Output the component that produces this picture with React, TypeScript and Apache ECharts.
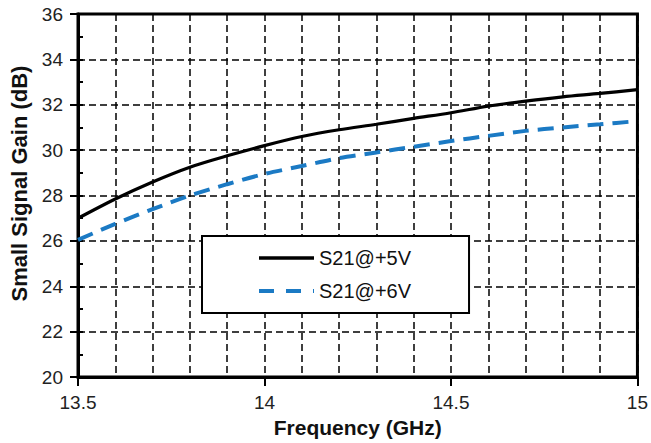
import React, { useEffect, useRef } from "react";
import * as echarts from "echarts";

const freq = [13.5, 13.6, 13.7, 13.8, 13.9, 14.0, 14.1, 14.2, 14.3, 14.4, 14.5, 14.6, 14.7, 14.8, 14.9, 15.0];
const gain5V = [27.0, 27.85, 28.6, 29.25, 29.75, 30.2, 30.6, 30.9, 31.14, 31.4, 31.65, 31.94, 32.16, 32.35, 32.5, 32.67];
const gain6V = [26.05, 26.75, 27.4, 28.0, 28.5, 28.95, 29.3, 29.65, 29.9, 30.15, 30.4, 30.63, 30.85, 31.0, 31.14, 31.28];
const seriesNames = ["S21@+5V", "S21@+6V"];
const xTitle = "Frequency (GHz)";
const yTitle = "Small Signal Gain (dB)";

const FONT = "'Liberation Sans', Arial, sans-serif";
const BLUE = "#1B7AC4";

export default function App() {
  const ref = useRef<HTMLDivElement>(null);
  useEffect(() => {
    if (!ref.current) return;
    const chart = echarts.init(ref.current, undefined, { renderer: "svg" });
    const dashGrid = { show: true, lineStyle: { color: "#000", width: 1.5, type: [7, 4] as any } };
    chart.setOption({
      animation: false,
      backgroundColor: "#fff",
      textStyle: { fontFamily: FONT },
      grid: {
        left: 78, right: 13, top: 14, bottom: 65,
        show: true, borderWidth: 3, borderColor: "#000", backgroundColor: "transparent",
      },
      legend: {
        orient: "vertical",
        left: 202, top: 236,
        padding: [11, 58, 11, 55],
        itemGap: 11,
        itemWidth: 55, itemHeight: 14,
        backgroundColor: "#fff",
        borderColor: "#000", borderWidth: 2,
        itemStyle: { opacity: 0 },
        textStyle: { fontSize: 20, color: "#111", fontFamily: FONT, lineHeight: 22 },
        data: [
          { name: seriesNames[0], lineStyle: { width: 3.5, color: "#000" } },
          { name: seriesNames[1], lineStyle: { width: 4, color: BLUE, type: [15, 12] } },
        ],
      },
      xAxis: [
        {
          type: "value", min: 13.5, max: 15, interval: 0.1,
          axisLine: { show: true, lineStyle: { color: "#000", width: 3 } },
          axisTick: { show: false }, axisLabel: { show: false },
          splitLine: dashGrid,
        },
        {
          type: "value", min: 13.5, max: 15, interval: 0.5, position: "bottom",
          axisLine: { show: false },
          axisTick: { show: true, length: 9, lineStyle: { color: "#000", width: 2 } },
          axisLabel: { show: true, fontSize: 19, color: "#222", margin: 16, fontFamily: FONT },
          splitLine: { show: false },
          name: xTitle, nameLocation: "middle", nameGap: 34,
          nameTextStyle: { fontSize: 21, fontWeight: "bold", color: "#111", fontFamily: FONT },
        },
      ],
      yAxis: [
        {
          type: "value", min: 20, max: 36, interval: 2,
          axisLine: { show: true, lineStyle: { color: "#000", width: 3 } },
          axisTick: { show: true, length: 8, lineStyle: { color: "#000", width: 2 } },
          axisLabel: { show: true, fontSize: 19, color: "#222", margin: 15, fontFamily: FONT },
          splitLine: dashGrid,
          name: yTitle, nameLocation: "middle", nameGap: 44,
          nameTextStyle: { fontSize: 22, fontWeight: "bold", color: "#111", fontFamily: FONT, padding: [0, 0, 0, 24] },
        },
        {
          type: "value", min: 20, max: 36, interval: 1, position: "left",
          axisLine: { show: false },
          axisTick: { show: true, inside: true, length: 5, lineStyle: { color: "#000", width: 2 } },
          axisLabel: { show: false },
          splitLine: { show: false },
        },
      ],
      series: [
        {
          name: seriesNames[0], type: "line", xAxisIndex: 0, yAxisIndex: 0,
          data: freq.map((f, i) => [f, gain5V[i]]),
          showSymbol: false, symbol: "none", smooth: 0.3,
          lineStyle: { color: "#000", width: 3.2 },
          itemStyle: { color: "#000" },
        },
        {
          name: seriesNames[1], type: "line", xAxisIndex: 0, yAxisIndex: 0,
          data: freq.map((f, i) => [f, gain6V[i]]),
          showSymbol: false, symbol: "none", smooth: 0.3,
          lineStyle: { color: BLUE, width: 4, type: [16, 9] as any },
          itemStyle: { color: BLUE },
        },
      ],
    });
    return () => chart.dispose();
  }, []);
  return <div ref={ref} style={{ width: 651, height: 443, position: "absolute", left: 0, top: 0 }} />;
}
